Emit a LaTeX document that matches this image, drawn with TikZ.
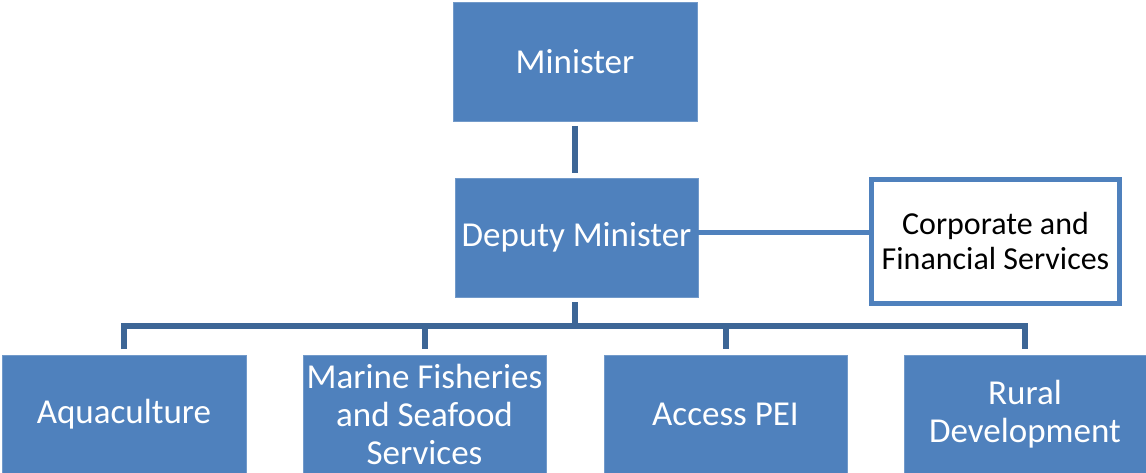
\documentclass[tikz,border=0pt]{standalone}
\usepackage{fontspec}
\setmainfont{Carlito}
\definecolor{boxblue}{HTML}{4F81BD}
\definecolor{linkblue}{HTML}{3D6696}
\begin{document}
\begin{tikzpicture}[x=1pt,y=-1pt,
  box/.style={fill=boxblue, draw=boxblue!80!white, line width=0.8pt, inner sep=0pt, outer sep=0pt,
    text=white, align=center, font=\fontsize{35}{38}\selectfont},
  wbox/.style={fill=white, draw=boxblue, line width=5pt, inner sep=0pt, outer sep=0pt,
    text=black, align=center, font=\fontsize{32}{35}\selectfont},
  conn/.style={draw=linkblue, line width=6pt},
  lconn/.style={draw=boxblue, line width=5pt}]
\useasboundingbox (0,0) rectangle (1146,473);
\node[box, minimum width=244pt, minimum height=119pt] (min) at (575,61.5) {Minister};
\node[box, minimum width=243pt, minimum height=119pt] (dep) at (576.5,237.5) {Deputy Minister};
\node[wbox, minimum width=248pt, minimum height=124pt] (cor) at (995.5,241.5) {Corporate and\\Financial Services};
\node[box, minimum width=244pt, minimum height=118pt] (aq) at (124,414) {Aquaculture};
\node[box, minimum width=243pt, minimum height=118pt] (ma) at (424.5,414) {Marine Fisheries\\and Seafood\\Services};
\node[box, minimum width=243pt, minimum height=118pt] (ac) at (725.5,414) {Access PEI};
\node[box, minimum width=242pt, minimum height=118pt] (ru) at (1025,414) {Rural\\Development};
\coordinate (bus) at (575,326);
\draw[conn, shorten <=5pt, shorten >=5pt] (min.south -| 575,0) -- (dep.north -| 575,0);
\draw[lconn, shorten >=-2.5pt] (dep.east |- 0,233) -- (cor.west |- 0,233);
\draw[conn, shorten <=5pt] (dep.south -| bus) -- ([yshift=3pt]bus);
\draw[conn, line join=miter, shorten <=6pt, shorten >=6pt] (aq.north) -- (aq.north |- bus) -- (ru.north |- bus) -- (ru.north);
\draw[conn, shorten >=6pt] ([yshift=-3pt]ma.north |- bus) -- (ma.north);
\draw[conn, shorten >=6pt] ([yshift=-3pt]ac.north |- bus) -- (ac.north);
\end{tikzpicture}
\end{document}
